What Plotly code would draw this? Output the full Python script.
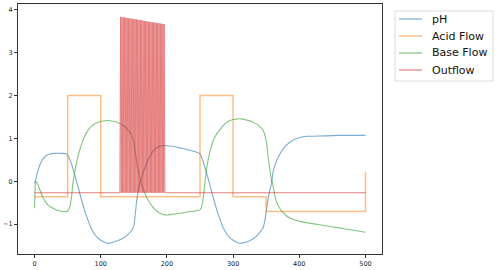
import plotly.graph_objects as go

# ---- data ----
ph_t = [0, 2, 5, 10, 15, 20, 25, 30, 40, 48, 50, 52, 55, 60, 65, 70, 75, 80, 85, 90, 95, 100, 105, 110,
        115, 120, 125, 130, 135, 140, 145, 148, 150, 152, 154, 156, 158, 160, 163, 166, 170, 175, 180,
        185, 190, 195, 200, 210, 220, 230, 240, 248, 250, 252, 255, 260, 265, 270, 275, 280, 285, 290,
        295, 300, 305, 310, 315, 320, 325, 330, 335, 340, 345, 348, 350, 352, 354, 356, 358, 361, 365,
        371, 378, 386, 395, 411, 420, 440, 460, 480, 500]
ph_v = [-0.05, 0.05, 0.25, 0.45, 0.56, 0.62, 0.64, 0.65, 0.65, 0.64, 0.62, 0.55, 0.44, 0.19, -0.09,
        -0.38, -0.65, -0.88, -1.08, -1.22, -1.32, -1.38, -1.42, -1.45,
        -1.44, -1.42, -1.39, -1.36, -1.32, -1.26, -1.18, -1.12, -1.05, -0.80, -0.50, -0.28, -0.12, 0.00,
        0.15, 0.29, 0.45, 0.60, 0.72, 0.78, 0.82, 0.83, 0.83, 0.81, 0.78, 0.74, 0.70, 0.66, 0.64, 0.57,
        0.45, 0.19, -0.09, -0.38, -0.65, -0.88, -1.08, -1.22, -1.32, -1.38, -1.42, -1.45, -1.44, -1.42,
        -1.39, -1.35, -1.29, -1.20, -1.10, -0.92, -0.72, -0.50, -0.32, -0.18, -0.05, 0.26, 0.45,
        0.64, 0.80, 0.91, 0.99, 1.05, 1.05, 1.06, 1.07, 1.07, 1.07]

acid_t = [0, 50, 100, 250, 300, 350, 500]
acid_v = [-0.36, 2.00, -0.36, 2.00, -0.36, -0.71, 0.22]

base_t = [0, 1, 2, 4, 8, 12, 16, 20, 25, 30, 35, 40, 45, 50, 52, 54, 56, 58, 60, 63, 66, 70, 75, 80,
          85, 90, 95, 100, 105, 110, 115, 120, 125, 130, 135, 140, 145, 148, 150, 152, 154, 156, 158,
          160, 163, 166, 170, 175, 180, 185, 190, 195, 200, 210, 220, 230, 240, 248, 250, 252, 254, 256,
          258, 260, 263, 266, 270, 275, 280, 285, 290, 295, 300, 305, 310, 315, 320, 325, 330, 335, 340,
          345, 348, 350, 352, 354, 356, 358, 360, 363, 366, 370, 375, 380, 386, 395, 405, 420, 440, 460,
          480, 500]
base_v = [-0.63, -0.10, 0.00, -0.05, -0.20, -0.36, -0.47, -0.55, -0.61, -0.65, -0.68, -0.70, -0.71,
          -0.70, -0.65, -0.55, -0.35, -0.05, 0.15, 0.40, 0.60, 0.82, 1.02, 1.17,
          1.27, 1.33, 1.37, 1.40, 1.41, 1.42, 1.41, 1.40, 1.38, 1.34, 1.29, 1.22, 1.12, 1.02, 0.90, 0.70,
          0.48, 0.30, 0.15, 0.02, -0.12, -0.25, -0.40, -0.52, -0.63, -0.70, -0.75, -0.78, -0.79, -0.77,
          -0.75, -0.72, -0.70, -0.68, -0.67, -0.62, -0.48, -0.25, 0.05, 0.30, 0.55, 0.75, 0.95, 1.10, 1.20,
          1.30, 1.37, 1.41, 1.44, 1.45, 1.46, 1.45, 1.43, 1.41, 1.38, 1.34, 1.28, 1.20, 1.08, 0.95, 0.70,
          0.45, 0.22, 0.05, -0.08, -0.33, -0.50, -0.62, -0.72, -0.80, -0.86, -0.91, -0.95, -0.99, -1.04,
          -1.09, -1.14, -1.19]

out_base = -0.27
out_spike_start = 130
out_spike_peaks = [3.84, 3.83, 3.83, 3.82, 3.82, 3.81, 3.81, 3.80, 3.80, 3.79, 3.79, 3.78, 3.78, 3.77,
                   3.77, 3.76, 3.76, 3.75, 3.74, 3.74, 3.73, 3.73, 3.72, 3.72, 3.71, 3.71, 3.70, 3.70,
                   3.69, 3.69, 3.68, 3.68, 3.67, 3.67]

series_names = ['pH', 'Acid Flow', 'Base Flow', 'Outflow']
series_colors = ['#1f77b4', '#ff7f0e', '#2ca02c', '#d62728']

y_tick_vals = [-1, 0, 1, 2, 3, 4]
y_tick_text = ['\u22121', '0', '1', '2', '3', '4']
x_tick_vals = [0, 100, 200, 300, 400, 500]

# build outflow series (alternating peak / baseline samples)
out_t = [0, out_spike_start - 1]
out_v = [out_base, out_base]
t = out_spike_start
for p in out_spike_peaks:
    out_t += [t, t + 1]
    out_v += [p, out_base]
    t += 2
out_t += [500]
out_v += [out_base]

W, H = 498, 270
ML, MR, MT, MB = 18, 116, 4, 16
PW, PH = W - ML - MR, H - MT - MB


def px2paper(px, py):
    return (px - ML) / PW, (H - MB - py) / PH


fig = go.Figure()
op = 0.6
fig.add_trace(go.Scatter(x=ph_t, y=ph_v, mode='lines', name=series_names[0],
                         line=dict(color=series_colors[0], width=1.1, shape='spline', smoothing=0.5), opacity=op))
fig.add_trace(go.Scatter(x=acid_t, y=acid_v, mode='lines', name=series_names[1],
                         line=dict(color=series_colors[1], width=1.5, shape='hv'), opacity=0.5))
fig.add_trace(go.Scatter(x=base_t, y=base_v, mode='lines', name=series_names[2],
                         line=dict(color=series_colors[2], width=1.1, shape='spline', smoothing=0.5), opacity=op))
fig.add_trace(go.Scatter(x=out_t, y=out_v, mode='lines', name=series_names[3],
                         line=dict(color=series_colors[3], width=1.0), opacity=op))

axis_common = dict(showgrid=False, zeroline=False, showline=True, linecolor='#333333', linewidth=1,
                   mirror=True, ticks='outside', ticklen=3, tickwidth=1, tickcolor='#333333',
                   tickfont=dict(family='DejaVu Sans', size=6.5, color='#222222'))
fig.update_xaxes(range=[-25, 525], tickvals=x_tick_vals, **axis_common)
fig.update_yaxes(range=[-1.70, 4.14], tickvals=y_tick_vals, ticktext=y_tick_text, **axis_common)

# custom legend (matplotlib-like)
shapes = []
annotations = []
x0, y0 = px2paper(395, 11)
x1, y1 = px2paper(493, 81)
shapes.append(dict(type='rect', xref='paper', yref='paper', x0=x0, y0=y1, x1=x1, y1=y0,
                   line=dict(color='#dcdcdc', width=1), fillcolor='rgba(255,255,255,0.8)', layer='above'))
for i, (nm, col) in enumerate(zip(series_names, series_colors)):
    py = 19 + 17 * i
    lx0, ly = px2paper(399, py)
    lx1, _ = px2paper(422, py)
    shapes.append(dict(type='line', xref='paper', yref='paper', x0=lx0, y0=ly, x1=lx1, y1=ly,
                       line=dict(color=col, width=1.2), opacity=op, layer='above'))
    tx, ty = px2paper(430, py)
    annotations.append(dict(text=nm, xref='paper', yref='paper', x=tx, y=ty, xanchor='left',
                            yanchor='middle', showarrow=False,
                            font=dict(family='DejaVu Sans', size=11, color='#111111')))

fig.update_layout(
    width=W, height=H,
    margin=dict(l=ML, r=MR, t=MT, b=MB, autoexpand=False),
    paper_bgcolor='white', plot_bgcolor='white',
    showlegend=False,
    shapes=shapes, annotations=annotations,
)

fig.write_html("out.html", config={'displayModeBar': False},
               post_script="document.body.style.margin='0';document.body.style.overflow='hidden';")
